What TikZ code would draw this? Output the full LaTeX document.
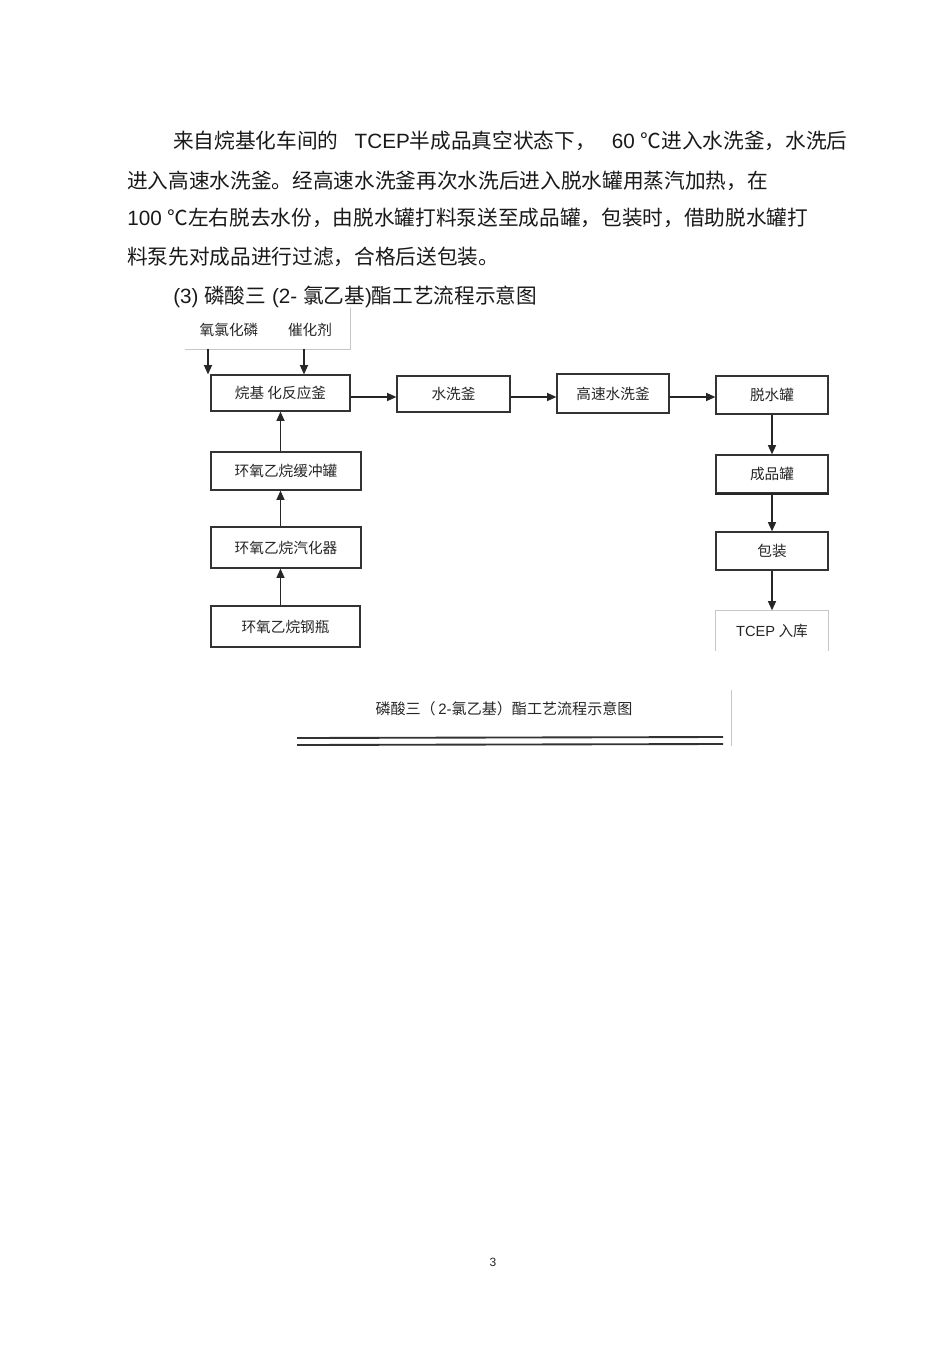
\documentclass[tikz,border=0pt]{standalone}
\usepackage{fontspec}
\setmainfont{Noto Sans CJK SC}
\newfontfamily\lat{Liberation Sans}
\usetikzlibrary{arrows.meta}
\begin{document}
\begin{tikzpicture}[x=0.75pt,y=-0.75pt,>={Stealth[length=7pt,width=6pt,inset=0pt]},
	line/.style={anchor=west,inner sep=0pt,text=black!90,font=\fontsize{15.5}{18}\selectfont},
	box/.style={draw=black!80,line width=0.9pt,inner sep=0pt,text=black!85,font=\fontsize{11}{13}\selectfont},
	feed/.style={inner sep=0pt,text=black!85,font=\fontsize{11}{13}\selectfont},
	openline/.style={draw=black!22,line width=0.7pt},
	flow/.style={->,line width=1.1pt,black!85},
	rule/.style={line width=1.4pt,black!80}]
	\useasboundingbox (0,0) rectangle (950,1345);
	% paragraph
	\node[line] (l1) at (173,141) {来自烷基化车间的\hspace{0.78em}{\lat TCEP}半成品真空状态下，\hspace{0.78em}{\lat 60 }℃进入水洗釜，水洗后};
	\node[line] (l2) at (127,181) {进入高速水洗釜。经高速水洗釜再次水洗后进入脱水罐用蒸汽加热，在};
	\node[line] (l3) at (127,218) {{\lat 100 }℃左右脱去水份，由脱水罐打料泵送至成品罐，包装时，借助脱水罐打};
	\node[line] (l4) at (127,257) {料泵先对成品进行过滤，合格后送包装。};
	\node[line] (l5) at (173,297) {{\lat (3) }磷酸三{\lat\ (2- }氯乙基{\lat )}酯工艺流程示意图};
	% raw materials
	\node[feed] (pocl) at (229,330) {氧氯化磷};
	\node[feed] (cat) at (310,330) {催化剂};
	\coordinate (fl) at (185,349);
	\coordinate (fr) at (350,349);
	\coordinate (ft) at (350,308);
	\draw[openline] (fl) -- (fr) -- (ft);
	\coordinate (in1) at (208,349);
	\coordinate (in2) at (304,349);
	% main line
	\node[box,minimum width=104.25pt,minimum height=27pt] (alky) at (280.5,393) {烷基 化反应釜};
	\node[box,minimum width=84.75pt,minimum height=27pt] (wash) at (453.5,394) {水洗釜};
	\node[box,minimum width=84pt,minimum height=29.25pt] (hwash) at (613,393.5) {高速水洗釜};
	\node[box,minimum width=84pt,minimum height=28.5pt] (dehy) at (772,395) {脱水罐};
	\node[box,minimum width=84pt,minimum height=28.5pt] (prod) at (772,474) {成品罐};
	\node[box,minimum width=84pt,minimum height=28.5pt] (pack) at (772,551) {包装};
	\node[box,draw=none,minimum width=84pt,minimum height=29.25pt] (store) at (772,630.5) {{\lat TCEP} 入库};
	\draw[openline] (store.south west) -- (store.north west) -- (store.north east) -- (store.south east);
	\draw[line width=1.4pt,black!85] (prod.south west) -- (prod.south east);
	% ethylene oxide line
	\node[box,minimum width=112.5pt,minimum height=28.5pt] (buffer) at (286,471) {环氧乙烷缓冲罐};
	\node[box,minimum width=112.5pt,minimum height=30.75pt] (vapor) at (286,547.5) {环氧乙烷汽化器};
	\node[box,minimum width=111.75pt,minimum height=30.75pt] (bottle) at (285.5,626.5) {环氧乙烷钢瓶};
	% arrows
	\coordinate (row) at (0,397);
	\draw[flow] (in1) -- (in1 |- alky.north);
	\draw[flow] (in2) -- (in2 |- alky.north);
	\draw[flow] (alky.east |- row) -- (wash.west |- row);
	\draw[flow] (wash.east |- row) -- (hwash.west |- row);
	\draw[flow] (hwash.east |- row) -- (dehy.west |- row);
	\draw[flow] (dehy) -- (prod);
	\draw[flow] (prod) -- (pack);
	\draw[flow] (pack) -- (store);
	\draw[flow] (alky.south |- buffer.north) -- (alky.south);
	\draw[flow] (alky.south |- vapor.north) -- (alky.south |- buffer.south);
	\draw[flow] (alky.south |- bottle.north) -- (alky.south |- vapor.south);
	% caption
	\node[feed,font=\fontsize{11.3}{13}\selectfont] (title) at (504,709) {磷酸三（\,{\lat 2-}氯乙基）酯工艺流程示意图};
	\draw[rule] (297,738) -- (723,737);
	\draw[rule] (297,745) -- (723,744);
	\draw[openline] (731,690) -- (731,746);
	\node[feed,font=\lat\fontsize{9}{11}\selectfont] (page) at (493,1262) {3};
\end{tikzpicture}
\end{document}
